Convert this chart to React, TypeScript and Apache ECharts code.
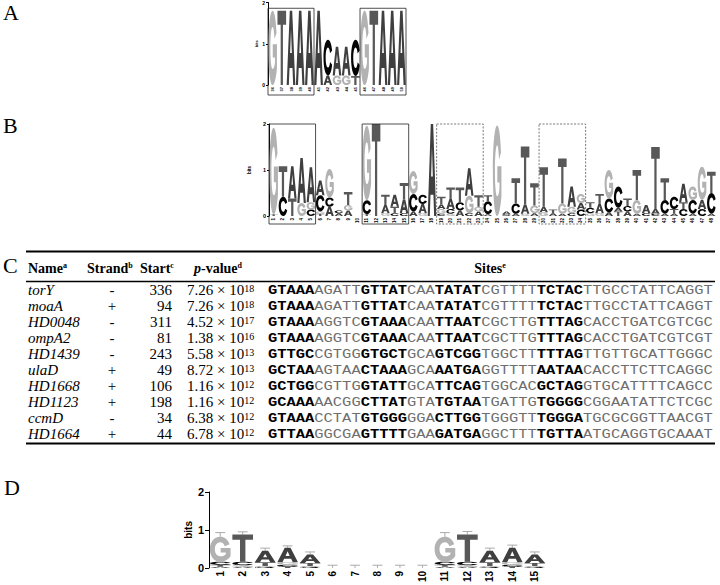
import React, { useEffect, useRef } from "react";
import * as echarts from "echarts";

// ---------- Letter glyphs (sequence logo) ----------
const LETTERS = ["A", "C", "G", "T"];
const LETTER_COLORS = ["#3f3f3f", "#050505", "#b2b2b2", "#585858"];
const LETTER_PATHS = [
  "M0 100 L36 0 L64 0 L100 100 L75 100 L67 77 L33 77 L25 100 Z M40 57 L60 57 L50 25 Z",
  "M95 30 C87 10 70 0 50 0 C20 0 0 22 0 50 C0 78 20 100 50 100 C70 100 87 90 95 70 L72 62 C68 72 60 78 50 78 C34 78 24 66 24 50 C24 34 34 22 50 22 C60 22 68 28 72 38 Z",
  "M95 30 C87 10 70 0 50 0 C20 0 0 22 0 50 C0 78 20 100 50 100 C72 100 90 90 100 78 L100 45 L52 45 L52 63 L77 63 L77 70 C70 76 60 79 50 78 C34 78 24 66 24 50 C24 34 34 22 50 22 C60 22 68 28 72 38 Z",
  "M0 0 L100 0 L100 19 L63 19 L63 100 L37 100 L37 19 L0 19 Z",
];

// ---------- Panel A ----------
const logoAPositions = ["36", "37", "38", "39", "40", "41", "42", "43", "44", "45", "46", "47", "48", "49", "50"];
const logoAStacks: [string, number][][] = [
  [["G", 1.8]],
  [["T", 1.8]],
  [["A", 1.8]],
  [["A", 1.8]],
  [["A", 1.8]],
  [["A", 1.8]],
  [["A", 0.23], ["C", 0.87]],
  [["G", 0.23], ["A", 0.7]],
  [["G", 0.23], ["A", 0.7]],
  [["T", 0.22], ["C", 0.88]],
  [["G", 1.8]],
  [["T", 1.8]],
  [["A", 1.8]],
  [["A", 1.8]],
  [["A", 1.8]],
];
const logoABoxes = [[0, 4, 0], [10, 14, 0]];

// ---------- Panel B ----------
const logoBPositions = ["1", "2", "3", "4", "5", "6", "7", "8", "9", "10", "11", "12", "13", "14", "15", "16", "17", "18", "19", "20", "21", "22", "23", "24", "25", "26", "27", "28", "29", "30", "31", "32", "33", "34", "35", "36", "37", "38", "39", "40", "41", "42", "43", "44", "45", "46", "47", "48"];
const logoBStacks: [string, number][][] = [
  [["T", 0.04], ["G", 1.88]],
  [["C", 0.42], ["T", 0.66]],
  [["T", 0.38], ["A", 0.7]],
  [["G", 0.28], ["A", 0.98]],
  [["C", 0.14], ["G", 0.16], ["A", 0.76]],
  [["T", 0.05], ["G", 0.05], ["C", 0.35], ["A", 0.32]],
  [["A", 0.2], ["C", 0.2], ["G", 0.62]],
  [["A", 0.06], ["C", 0.06]],
  [["A", 0.12], ["G", 0.12], ["T", 0.28]],
  [],
  [["T", 0.04], ["C", 0.3], ["G", 1.62]],
  [["T", 2.0]],
  [["G", 0.06], ["A", 0.18], ["T", 0.22]],
  [["C", 0.06], ["T", 0.14], ["A", 0.26]],
  [["C", 0.06], ["A", 0.3], ["T", 0.36]],
  [["A", 0.1], ["C", 0.38], ["G", 0.5]],
  [["G", 0.06], ["A", 0.2], ["C", 0.2]],
  [["A", 2.0]],
  [["C", 0.05], ["G", 0.1], ["A", 0.1], ["T", 0.17]],
  [["G", 0.05], ["C", 0.1], ["A", 0.22], ["T", 0.25]],
  [["A", 0.12], ["C", 0.18], ["T", 0.32]],
  [["C", 0.06], ["G", 0.38], ["A", 0.6]],
  [["A", 0.1], ["G", 0.1], ["T", 0.25]],
  [["A", 0.04], ["C", 0.28], ["T", 0.13]],
  [["G", 1.97]],
  [["C", 0.04], ["A", 0.06]],
  [["A", 0.05], ["C", 0.22], ["T", 0.55]],
  [["G", 0.05], ["A", 0.2], ["T", 1.26]],
  [["A", 0.06], ["G", 0.17], ["T", 0.48]],
  [["G", 0.08], ["A", 0.12], ["T", 0.86]],
  [["A", 0.06], ["T", 0.08]],
  [["A", 0.05], ["G", 0.22], ["T", 0.98]],
  [["C", 0.06], ["G", 0.14], ["A", 0.44]],
  [["C", 0.14], ["A", 0.14], ["G", 0.2]],
  [["G", 0.06], ["C", 0.12], ["T", 0.12]],
  [["G", 0.06], ["A", 0.2], ["T", 0.22]],
  [["A", 0.08], ["C", 0.3], ["G", 0.62]],
  [["T", 0.1], ["A", 0.08], ["C", 0.46]],
  [["A", 0.1], ["C", 0.12], ["T", 0.16]],
  [["A", 0.05], ["G", 0.3], ["T", 0.65]],
  [["C", 0.06], ["A", 0.18]],
  [["C", 0.05], ["A", 0.1], ["T", 1.35]],
  [["A", 0.05], ["C", 0.3], ["T", 0.47]],
  [["A", 0.05], ["T", 0.1], ["C", 0.27]],
  [["C", 0.15], ["T", 0.15], ["A", 0.4]],
  [["A", 0.05], ["C", 0.3], ["G", 0.29]],
  [["C", 0.15], ["A", 0.2], ["G", 0.72]],
  [["A", 0.05], ["C", 0.45], ["T", 0.46]],
];
const logoBBoxes = [[0, 4, 0], [10, 14, 0], [18, 22, 1], [29, 33, 1]];

// ---------- Panel D ----------
const logoDPositions = ["1", "2", "3", "4", "5", "6", "7", "8", "9", "10", "11", "12", "13", "14", "15"];
const logoDStacks: [string, number][][] = [
  [["A", 0.03], ["T", 0.05], ["C", 0.08], ["G", 0.66]],
  [["A", 0.03], ["G", 0.04], ["C", 0.09], ["T", 0.72]],
  [["C", 0.02], ["G", 0.03], ["T", 0.1], ["A", 0.3]],
  [["T", 0.03], ["C", 0.05], ["G", 0.07], ["A", 0.38]],
  [["C", 0.02], ["G", 0.03], ["T", 0.08], ["A", 0.22]],
  [],
  [],
  [],
  [],
  [],
  [["A", 0.03], ["T", 0.05], ["C", 0.08], ["G", 0.66]],
  [["A", 0.03], ["G", 0.04], ["C", 0.09], ["T", 0.72]],
  [["C", 0.02], ["G", 0.03], ["T", 0.1], ["A", 0.3]],
  [["T", 0.03], ["C", 0.05], ["G", 0.07], ["A", 0.38]],
  [["C", 0.02], ["G", 0.03], ["T", 0.08], ["A", 0.22]],
];
const logoDErrorTops = [0.93, 0.95, 0.52, 0.58, 0.42, 0.07, 0.07, 0.07, 0.07, 0.07, 0.93, 0.96, 0.52, 0.6, 0.42];

// ---------- Panel C (table) ----------
const tableNames = ["torY", "moaA", "HD0048", "ompA2", "HD1439", "ulaD", "HD1668", "HD1123", "ccmD", "HD1664"];
const tableStrands = ["-", "+", "-", "-", "-", "+", "+", "+", "-", "+"];
const tableStarts = ["336", "94", "311", "81", "243", "49", "106", "198", "34", "44"];
const tablePMantissa = ["7.26", "7.26", "4.52", "1.38", "5.58", "8.72", "1.16", "1.16", "6.38", "6.78"];
const tablePExponent = ["18", "18", "17", "16", "13", "13", "12", "12", "12", "12"];
const tableSites = [
  "GTAAAAGATTGTTATCAATATATCGTTTTTCTACTTGCCTATTCAGGT",
  "GTAAAAGATTGTTATCAATATATCGTTTTTCTACTTGCCTATTCAGGT",
  "GTAAAAGGTCGTAAACAATTAATCGCTTGTTTAGCACCTGATCGTCGC",
  "GTAAAAGGTCGTAAACAATTAATCGCTTGTTTAGCACCTGATCGTCGT",
  "GTTGCCGTGGGTGCTGCAGTCGGTGGCTTTTTAGTTGTTGCATTGGGC",
  "GCTAAAGTAACTAAAGCAAATGAGGTTTTAATAACACCTTCTTCAGGC",
  "GCTGGCGTTGGTATTGCATTCAGTGGCACGCTAGGTGCATTTTCAGCC",
  "GCAAAAACGGCTTATGTATGTAATGATTGTGGGGCGGAATATTCTCGC",
  "GTAAACCTATGTGGGGGACTTGGTGGGTTTGGGATGCGCGGTTAACGT",
  "GTTAAGGCGAGTTTTGAAGATGAGGCTTTTGTTAATGCAGGTGCAAAT",
];
// segment boundaries of the sites and whether each segment is bold
const siteSegmentEnds = [5, 10, 15, 18, 23, 29, 34, 48];
const siteSegmentBold = [true, false, true, false, true, false, true, false];

function stackData(stacks: [string, number][][]) {
  const out: number[][] = [];
  stacks.forEach((col, i) => {
    let y = 0;
    col.forEach(([l, h]) => {
      out.push([i, y, y + h, LETTERS.indexOf(l)]);
      y += h;
    });
  });
  return out;
}

const letterRender = (pad: number) => (params: any, api: any) => {
  const x = api.value(0);
  const y0 = api.value(1);
  const y1 = api.value(2);
  const li = api.value(3);
  const p0 = api.coord([x, y0]);
  const p1 = api.coord([x, y1]);
  const bw = api.size([1, 0])[0];
  const h = p0[1] - p1[1];
  if (h < 0.3) return null;
  return {
    type: "path",
    shape: {
      pathData: LETTER_PATHS[li],
      x: p0[0] - bw / 2 + pad * bw,
      y: p1[1],
      width: bw * (1 - 2 * pad),
      height: h,
      layout: "cover",
    },
    style: { fill: LETTER_COLORS[li] },
  };
};

const boxRender = (topBits: number, extraBottom: number) => (params: any, api: any) => {
  const s = api.value(0);
  const e = api.value(1);
  const dashed = api.value(2);
  const bw = api.size([1, 0])[0];
  const pS = api.coord([s, topBits]);
  const pE = api.coord([e, 0]);
  const x1 = pS[0] - bw / 2;
  const x2 = pE[0] + bw / 2;
  const y1 = pS[1];
  const y2 = pE[1] + extraBottom;
  return {
    type: "rect",
    shape: { x: x1, y: y1, width: x2 - x1, height: y2 - y1 },
    style: {
      fill: "none",
      stroke: dashed ? "#555" : "#222",
      lineWidth: 0.8,
      lineDash: dashed ? [2, 1.5] : null,
    },
  };
};

const errRender = (params: any, api: any) => {
  const x = api.value(0);
  const top = api.value(1);
  const err = api.value(2);
  const bw = api.size([1, 0])[0];
  const pT = api.coord([x, top]);
  const pE = api.coord([x, err]);
  return {
    type: "group",
    children: [
      { type: "line", shape: { x1: pT[0], y1: pT[1], x2: pE[0], y2: pE[1] }, style: { stroke: "#aaa", lineWidth: 1 } },
      { type: "line", shape: { x1: pE[0] - bw * 0.22, y1: pE[1], x2: pE[0] + bw * 0.22, y2: pE[1] }, style: { stroke: "#aaa", lineWidth: 1 } },
    ],
  };
};

function yAxisCfg(gridIndex: number, labelSize: number, nameSize: number, nameGap: number, tickLen: number) {
  return {
    gridIndex,
    type: "value",
    min: 0,
    max: 2,
    interval: 1,
    axisLine: { show: true, lineStyle: { color: "#000", width: 1 } },
    axisTick: { show: true, length: tickLen, lineStyle: { color: "#000" } },
    splitLine: { show: false },
    axisLabel: { fontSize: labelSize, margin: tickLen + 1, color: "#000", fontWeight: "bold", fontFamily: "Liberation Sans" },
    name: "bits",
    nameLocation: "middle",
    nameGap,
    nameTextStyle: { fontSize: nameSize, fontWeight: "bold", color: "#000", fontFamily: "Liberation Sans" },
  };
}

function xAxisCfg(gridIndex: number, data: string[], labelSize: number, margin: number) {
  return {
    gridIndex,
    type: "category",
    data,
    axisLine: { show: false },
    axisTick: { show: false },
    axisLabel: { rotate: 90, fontSize: labelSize, interval: 0, margin, fontWeight: "bold", color: "#000", fontFamily: "Liberation Sans" },
  };
}

function buildGraphic() {
  const g: any[] = [];
  const serif = "Liberation Serif";
  const panelLabel = (t: string, x: number, y: number) => ({
    type: "text",
    x,
    y,
    style: { text: t, fontSize: 22, fontFamily: serif, fill: "#000", textVerticalAlign: "middle" },
  });
  g.push(panelLabel("A", 3, 12));
  g.push(panelLabel("B", 3, 125));
  g.push(panelLabel("C", 3, 265));
  g.push(panelLabel("D", 4, 487));

  // table rules
  const rule = (y: number, w: number) => ({
    type: "line",
    shape: { x1: 26, y1: y, x2: 715, y2: y },
    style: { stroke: "#000", lineWidth: w },
  });
  g.push(rule(251.5, 2));
  g.push(rule(281.5, 1.5));
  g.push(rule(443.5, 2));

  const hRich = {
    h: { fontSize: 14, fontWeight: "bold", fontFamily: serif, fill: "#000", lineHeight: 14 },
    hi: { fontSize: 14, fontWeight: "bold", fontStyle: "italic", fontFamily: serif, fill: "#000", lineHeight: 14 },
    s: { fontSize: 8, fontWeight: "bold", fontFamily: serif, fill: "#000", lineHeight: 8, verticalAlign: "top" },
  };
  const header = (text: string, x: number, align: string) => ({
    type: "text",
    x,
    y: 268,
    style: { text, rich: hRich, textAlign: align, textVerticalAlign: "middle" },
  });
  g.push(header("{h|Name}{s|a}", 28, "left"));
  g.push(header("{h|Strand}{s|b}", 87, "left"));
  g.push(header("{h|Start}{s|c}", 140, "left"));
  g.push(header("{hi|p}{h|-value}{s|d}", 194, "left"));
  g.push(header("{h|Sites}{s|e}", 490, "center"));

  const pRich = {
    m: { fontSize: 15, fontFamily: serif, fill: "#000", lineHeight: 13 },
    e: { fontSize: 10, fontFamily: serif, fill: "#000", lineHeight: 8, verticalAlign: "top" },
  };
  const monoSize = 13;
  const siteRich = {
    b: { fontSize: monoSize, fontFamily: "Liberation Mono", fontWeight: "bold", fill: "#000", lineHeight: 12 },
    r: { fontSize: monoSize, fontFamily: "Liberation Mono", fill: "#6e6e6e", lineHeight: 12 },
  };
  // stretch the monospace rows horizontally so 48 characters span the sites column
  const siteScaleX = 9.27 / (0.6 * monoSize);

  tableNames.forEach((name, i) => {
    const y = 290 + i * 16;
    g.push({ type: "text", x: 28, y, style: { text: name, fontSize: 15, lineHeight: 13, fontStyle: "italic", fontFamily: serif, fill: "#000", textVerticalAlign: "middle" } });
    g.push({ type: "text", x: 112, y, style: { text: tableStrands[i], fontSize: 15, lineHeight: 13, fontFamily: serif, fill: "#000", textAlign: "center", textVerticalAlign: "middle" } });
    g.push({ type: "text", x: 172, y, style: { text: tableStarts[i], fontSize: 15, lineHeight: 13, fontFamily: serif, fill: "#000", textAlign: "right", textVerticalAlign: "middle" } });
    g.push({ type: "text", x: 187, y, style: { text: `{m|${tablePMantissa[i]} × 10}{e|${tablePExponent[i]}}`, rich: pRich, textVerticalAlign: "middle" } });
    const site = tableSites[i];
    let prev = 0;
    let txt = "";
    siteSegmentEnds.forEach((end, k) => {
      txt += `{${siteSegmentBold[k] ? "b" : "r"}|${site.slice(prev, end)}}`;
      prev = end;
    });
    g.push({ type: "text", x: 268, y, scaleX: siteScaleX, style: { text: txt, rich: siteRich, textVerticalAlign: "middle" } });
  });
  return g;
}

function buildOption() {
  const dTops = logoDStacks.map((col) => col.reduce((s, [, h]) => s + h, 0));
  return {
    animation: false,
    backgroundColor: "#fff",
    grid: [
      { left: 268, top: 2, width: 138, height: 83 },
      { left: 269, top: 124, width: 447, height: 92 },
      { left: 209, top: 492, width: 337, height: 78 },
    ],
    xAxis: [
      xAxisCfg(0, logoAPositions, 4, 2),
      xAxisCfg(1, logoBPositions, 4.5, 2),
      xAxisCfg(2, logoDPositions, 10, 3),
    ],
    yAxis: [
      yAxisCfg(0, 5, 4, 9, 2),
      yAxisCfg(1, 5.5, 4.5, 10, 2),
      yAxisCfg(2, 11, 10, 13, 4),
    ],
    series: [
      {
        type: "custom",
        xAxisIndex: 0,
        yAxisIndex: 0,
        clip: false,
        encode: { x: 0, y: [1, 2] },
        data: stackData(logoAStacks),
        renderItem: letterRender(0.03),
      },
      {
        type: "custom",
        xAxisIndex: 0,
        yAxisIndex: 0,
        clip: false,
        encode: { x: [0, 1], y: 2 },
        data: logoABoxes,
        renderItem: boxRender(1.86, 10),
      },
      {
        type: "custom",
        xAxisIndex: 1,
        yAxisIndex: 1,
        clip: false,
        encode: { x: 0, y: [1, 2] },
        data: stackData(logoBStacks),
        renderItem: letterRender(0.04),
      },
      {
        type: "custom",
        xAxisIndex: 1,
        yAxisIndex: 1,
        clip: false,
        encode: { x: [0, 1], y: 2 },
        data: logoBBoxes,
        renderItem: boxRender(2, 8),
      },
      {
        type: "custom",
        xAxisIndex: 2,
        yAxisIndex: 2,
        clip: false,
        encode: { x: 0, y: [1, 2] },
        data: logoDErrorTops.map((e, i) => [i, dTops[i], e]),
        renderItem: errRender,
      },
      {
        type: "custom",
        xAxisIndex: 2,
        yAxisIndex: 2,
        clip: false,
        encode: { x: 0, y: [1, 2] },
        data: stackData(logoDStacks),
        renderItem: letterRender(0.04),
      },
    ],
    graphic: buildGraphic(),
  };
}

export default function App() {
  const ref = useRef<HTMLDivElement>(null);
  useEffect(() => {
    const chart = echarts.init(ref.current!, null, { renderer: "svg" });
    chart.setOption(buildOption() as any);
    return () => chart.dispose();
  }, []);
  return (
    <div
      ref={ref}
      style={{ position: "fixed", left: 0, top: 0, width: 720, height: 585, background: "#fff" }}
    />
  );
}
